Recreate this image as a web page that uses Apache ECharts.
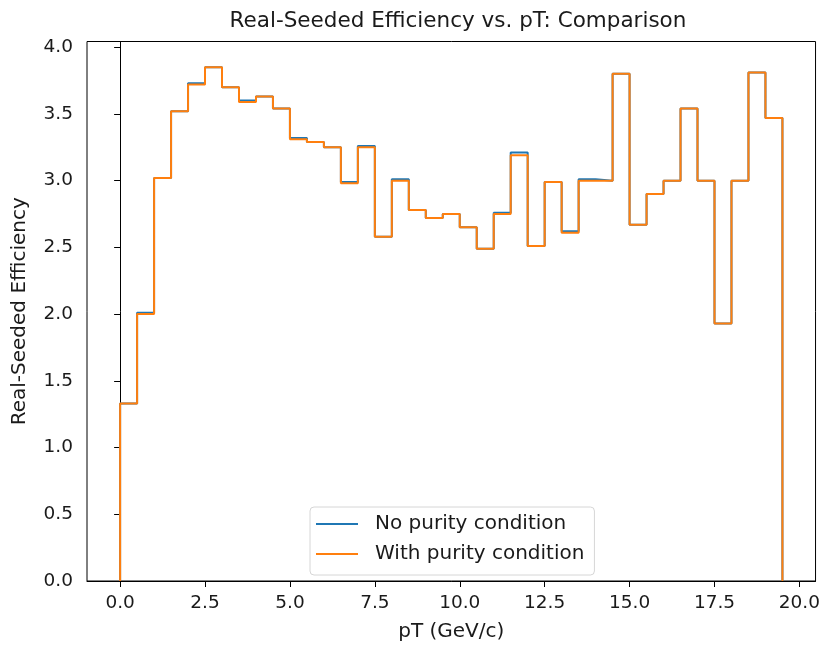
<!DOCTYPE html>
<html>
<head>
<meta charset="utf-8">
<script src="https://cdn.jsdelivr.net/npm/echarts@6/dist/echarts.min.js"></script>
<style>html,body{margin:0;padding:0;background:#fff}#c{width:823px;height:647px}</style>
</head>
<body>
<div id="c"></div>
<script>
// Bin edges (width 0.5, 0 to 19.5)
var binEdges = [0,0.5,1,1.5,2,2.5,3,3.5,4,4.5,5,5.5,6,6.5,7,7.5,8,8.5,9,9.5,10,10.5,11,11.5,12,12.5,13,13.5,14,14.5,15,15.5,16,16.5,17,17.5,18,18.5,19,19.5];
var noPurity = [1.33,2.01,3.02,3.52,3.73,3.85,3.70,3.60,3.63,3.54,3.32,3.29,3.25,2.99,3.26,2.58,3.01,2.78,2.72,2.75,2.65,2.49,2.76,3.21,2.51,2.99,2.62,3.01,3.00,3.80,2.67,2.90,3.00,3.54,3.00,1.93,3.00,3.81,3.47];
var withPurity = [1.33,2.00,3.02,3.52,3.72,3.85,3.70,3.59,3.63,3.54,3.31,3.29,3.25,2.98,3.25,2.58,3.00,2.78,2.72,2.75,2.65,2.49,2.75,3.19,2.51,2.99,2.61,3.00,3.00,3.80,2.67,2.90,3.00,3.54,3.00,1.93,3.00,3.81,3.47];
var xTicks = [0,2.5,5,7.5,10,12.5,15,17.5,20];
var yTicks = [0,0.5,1,1.5,2,2.5,3,3.5,4];

function stepData(vals){
  var d = [[binEdges[0],0]];
  for (var i=0;i<vals.length;i++) d.push([binEdges[i], vals[i]]);
  var last = binEdges[binEdges.length-1];
  d.push([last, vals[vals.length-1]]);
  d.push([last, 0]);
  return d;
}
var font = 'DejaVu Sans';
var chart = echarts.init(document.getElementById('c'));
chart.setOption({
  animation:false,
  backgroundColor:'#fff',
  title:{text:'Real-Seeded Efficiency vs. pT: Comparison',left:453,top:5,textAlign:'center',
    textStyle:{fontFamily:font,fontSize:21.5,fontWeight:'normal',color:'#1a1a1a'}},
  grid:{left:87,right:6,top:41.5,bottom:61,show:true,borderColor:'#000',borderWidth:1,backgroundColor:'transparent'},
  legend:{
    orient:'vertical',left:310,top:507,
    padding:[7,10,11,6],itemGap:10,itemWidth:42,itemHeight:2,
    borderColor:'#d6d6d6',borderWidth:1,borderRadius:4,backgroundColor:'rgba(255,255,255,0.8)',
    textStyle:{fontFamily:font,fontSize:20,lineHeight:20,color:'#1a1a1a',padding:[0,0,0,12]},
    data:[{name:'No purity condition',icon:'rect'},{name:'With purity condition',icon:'rect'}]
  },
  xAxis:{type:'value',min:-0.975,max:20.475,
    name:'pT (GeV/c)',nameLocation:'middle',nameGap:41,
    nameTextStyle:{fontFamily:font,fontSize:20,color:'#1a1a1a'},
    axisLine:{show:true,lineStyle:{color:'#000',width:1}},
    axisTick:{show:true,inside:false,length:6,lineStyle:{color:'#000'},customValues:xTicks},
    axisLabel:{fontFamily:font,fontSize:18.5,color:'#1a1a1a',margin:13,customValues:xTicks,
      formatter:function(v){return v.toFixed(1);}},
    splitLine:{show:false}},
  yAxis:{type:'value',min:0,max:4.0425,
    name:'Real-Seeded Efficiency',nameLocation:'middle',nameGap:57,
    nameTextStyle:{fontFamily:font,fontSize:20,color:'#1a1a1a'},
    axisLine:{show:true,lineStyle:{color:'#000',width:1}},
    axisTick:{show:true,inside:false,length:6,lineStyle:{color:'#000'},customValues:yTicks},
    axisLabel:{fontFamily:font,fontSize:18.5,color:'#1a1a1a',margin:14,customValues:yTicks,
      formatter:function(v){return v.toFixed(1);}},
    splitLine:{show:false}},
  series:[
    {name:'No purity condition',type:'line',step:'end',data:stepData(noPurity),
      showSymbol:false,symbol:'none',color:'#1f77b4',lineStyle:{color:'#1f77b4',width:2},z:2},
    {name:'With purity condition',type:'line',step:'end',data:stepData(withPurity),
      showSymbol:false,symbol:'none',color:'#ff7f0e',lineStyle:{color:'#ff7f0e',width:2},z:3}
  ]
});
</script>
</body>
</html>
